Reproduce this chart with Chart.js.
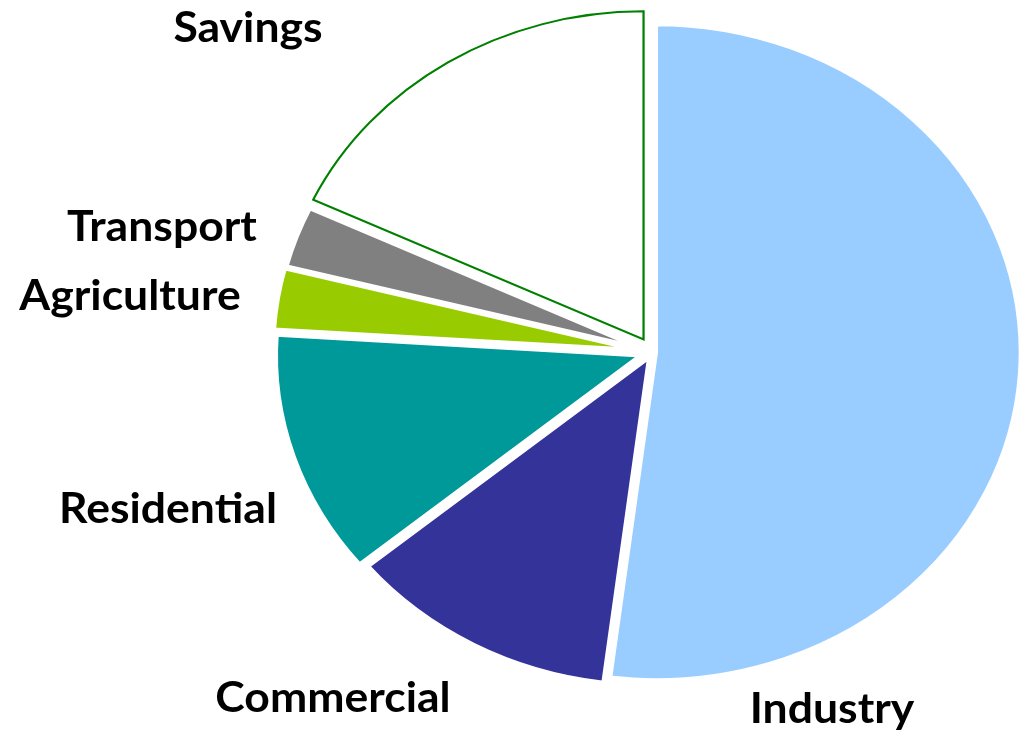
<!DOCTYPE html>
<html lang="en">
<head>
    <meta charset="UTF-8">
    <title>Energy use by sector</title>
    <script src="https://cdn.jsdelivr.net/npm/chart.js"></script>
    <style>
        html, body { margin: 0; padding: 0; background: #fff; }
        #wrap { width: 1030px; height: 732px; position: relative; }
    </style>
</head>
<body>
    <div id="wrap"><canvas id="myChart"></canvas></div>

    <script>
        // Sectors in drawing order (clockwise from 12 o'clock)
        const sectors = ['Industry', 'Commercial', 'Residential', 'Agriculture', 'Transport', 'Savings'];
        // Share of total, %
        const shares = [52, 12, 12, 3, 3, 18];

        // Styling per slice
        const fills = ['#99CCFF', '#333399', '#009999', '#99CC00', '#808080', '#FFFFFF'];
        const borders = ['#FFFFFF', '#FFFFFF', '#FFFFFF', '#FFFFFF', '#FFFFFF', '#008000'];
        const borderWidths = [4, 4, 4, 4, 4, 2];
        const explode = [3, 6, 11, 13, 12, 15]; // px pulled out from the centre

        // Label anchors (centre of text, baseline)
        const labelPos = [[832, 723], [333, 712], [168, 523], [130, 310], [162, 241], [248, 42]];

        const stretchX = 1.113; // pie in the picture is wider than it is tall
        const textStretch = 1.06; // labels are a little wider than Lato

        // Pull slices out along their mid angle and stretch the pie sideways
        const explodePlugin = {
            id: 'explode',
            afterDatasetsUpdate(chart) {
                chart.getDatasetMeta(0).data.forEach((arc, i) => {
                    const mid = (arc.startAngle + arc.endAngle) / 2;
                    arc.x += Math.cos(mid) * explode[i];
                    arc.y += Math.sin(mid) * explode[i];
                });
            },
            beforeDatasetsDraw(chart) {
                const ctx = chart.ctx;
                const area = chart.chartArea;
                const cx = (area.left + area.right) / 2;
                ctx.save();
                ctx.translate(cx, 0);
                ctx.scale(stretchX, 1);
                ctx.translate(-cx, 0);
            },
            afterDatasetsDraw(chart) {
                chart.ctx.restore();
            }
        };

        // Sector names outside the pie
        const labelPlugin = {
            id: 'sectorLabels',
            afterDraw(chart) {
                const ctx = chart.ctx;
                chart.data.labels.forEach((name, i) => {
                    ctx.save();
                    ctx.font = 'bold 42px Lato';
                    ctx.fillStyle = '#000000';
                    ctx.textAlign = 'center';
                    ctx.textBaseline = 'alphabetic';
                    ctx.translate(labelPos[i][0], labelPos[i][1]);
                    ctx.scale(textStretch, 1);
                    ctx.fillText(name, 0, 0);
                    ctx.restore();
                });
            }
        };

        const ctx = document.getElementById('myChart').getContext('2d');
        const myChart = new Chart(ctx, {
            type: 'pie',
            data: {
                labels: sectors,
                datasets: [{
                    data: shares,
                    backgroundColor: fills,
                    borderColor: borders,
                    borderWidth: borderWidths,
                    borderJoinStyle: 'miter',
                    radius: 328,
                    clip: false
                }]
            },
            options: {
                responsive: true,
                maintainAspectRatio: false,
                animation: false,
                events: [],
                layout: { padding: { left: 275, right: 0, top: 4, bottom: 32 } },
                plugins: {
                    legend: { display: false },
                    tooltip: { enabled: false }
                }
            },
            plugins: [explodePlugin, labelPlugin]
        });
    </script>
</body>
</html>
